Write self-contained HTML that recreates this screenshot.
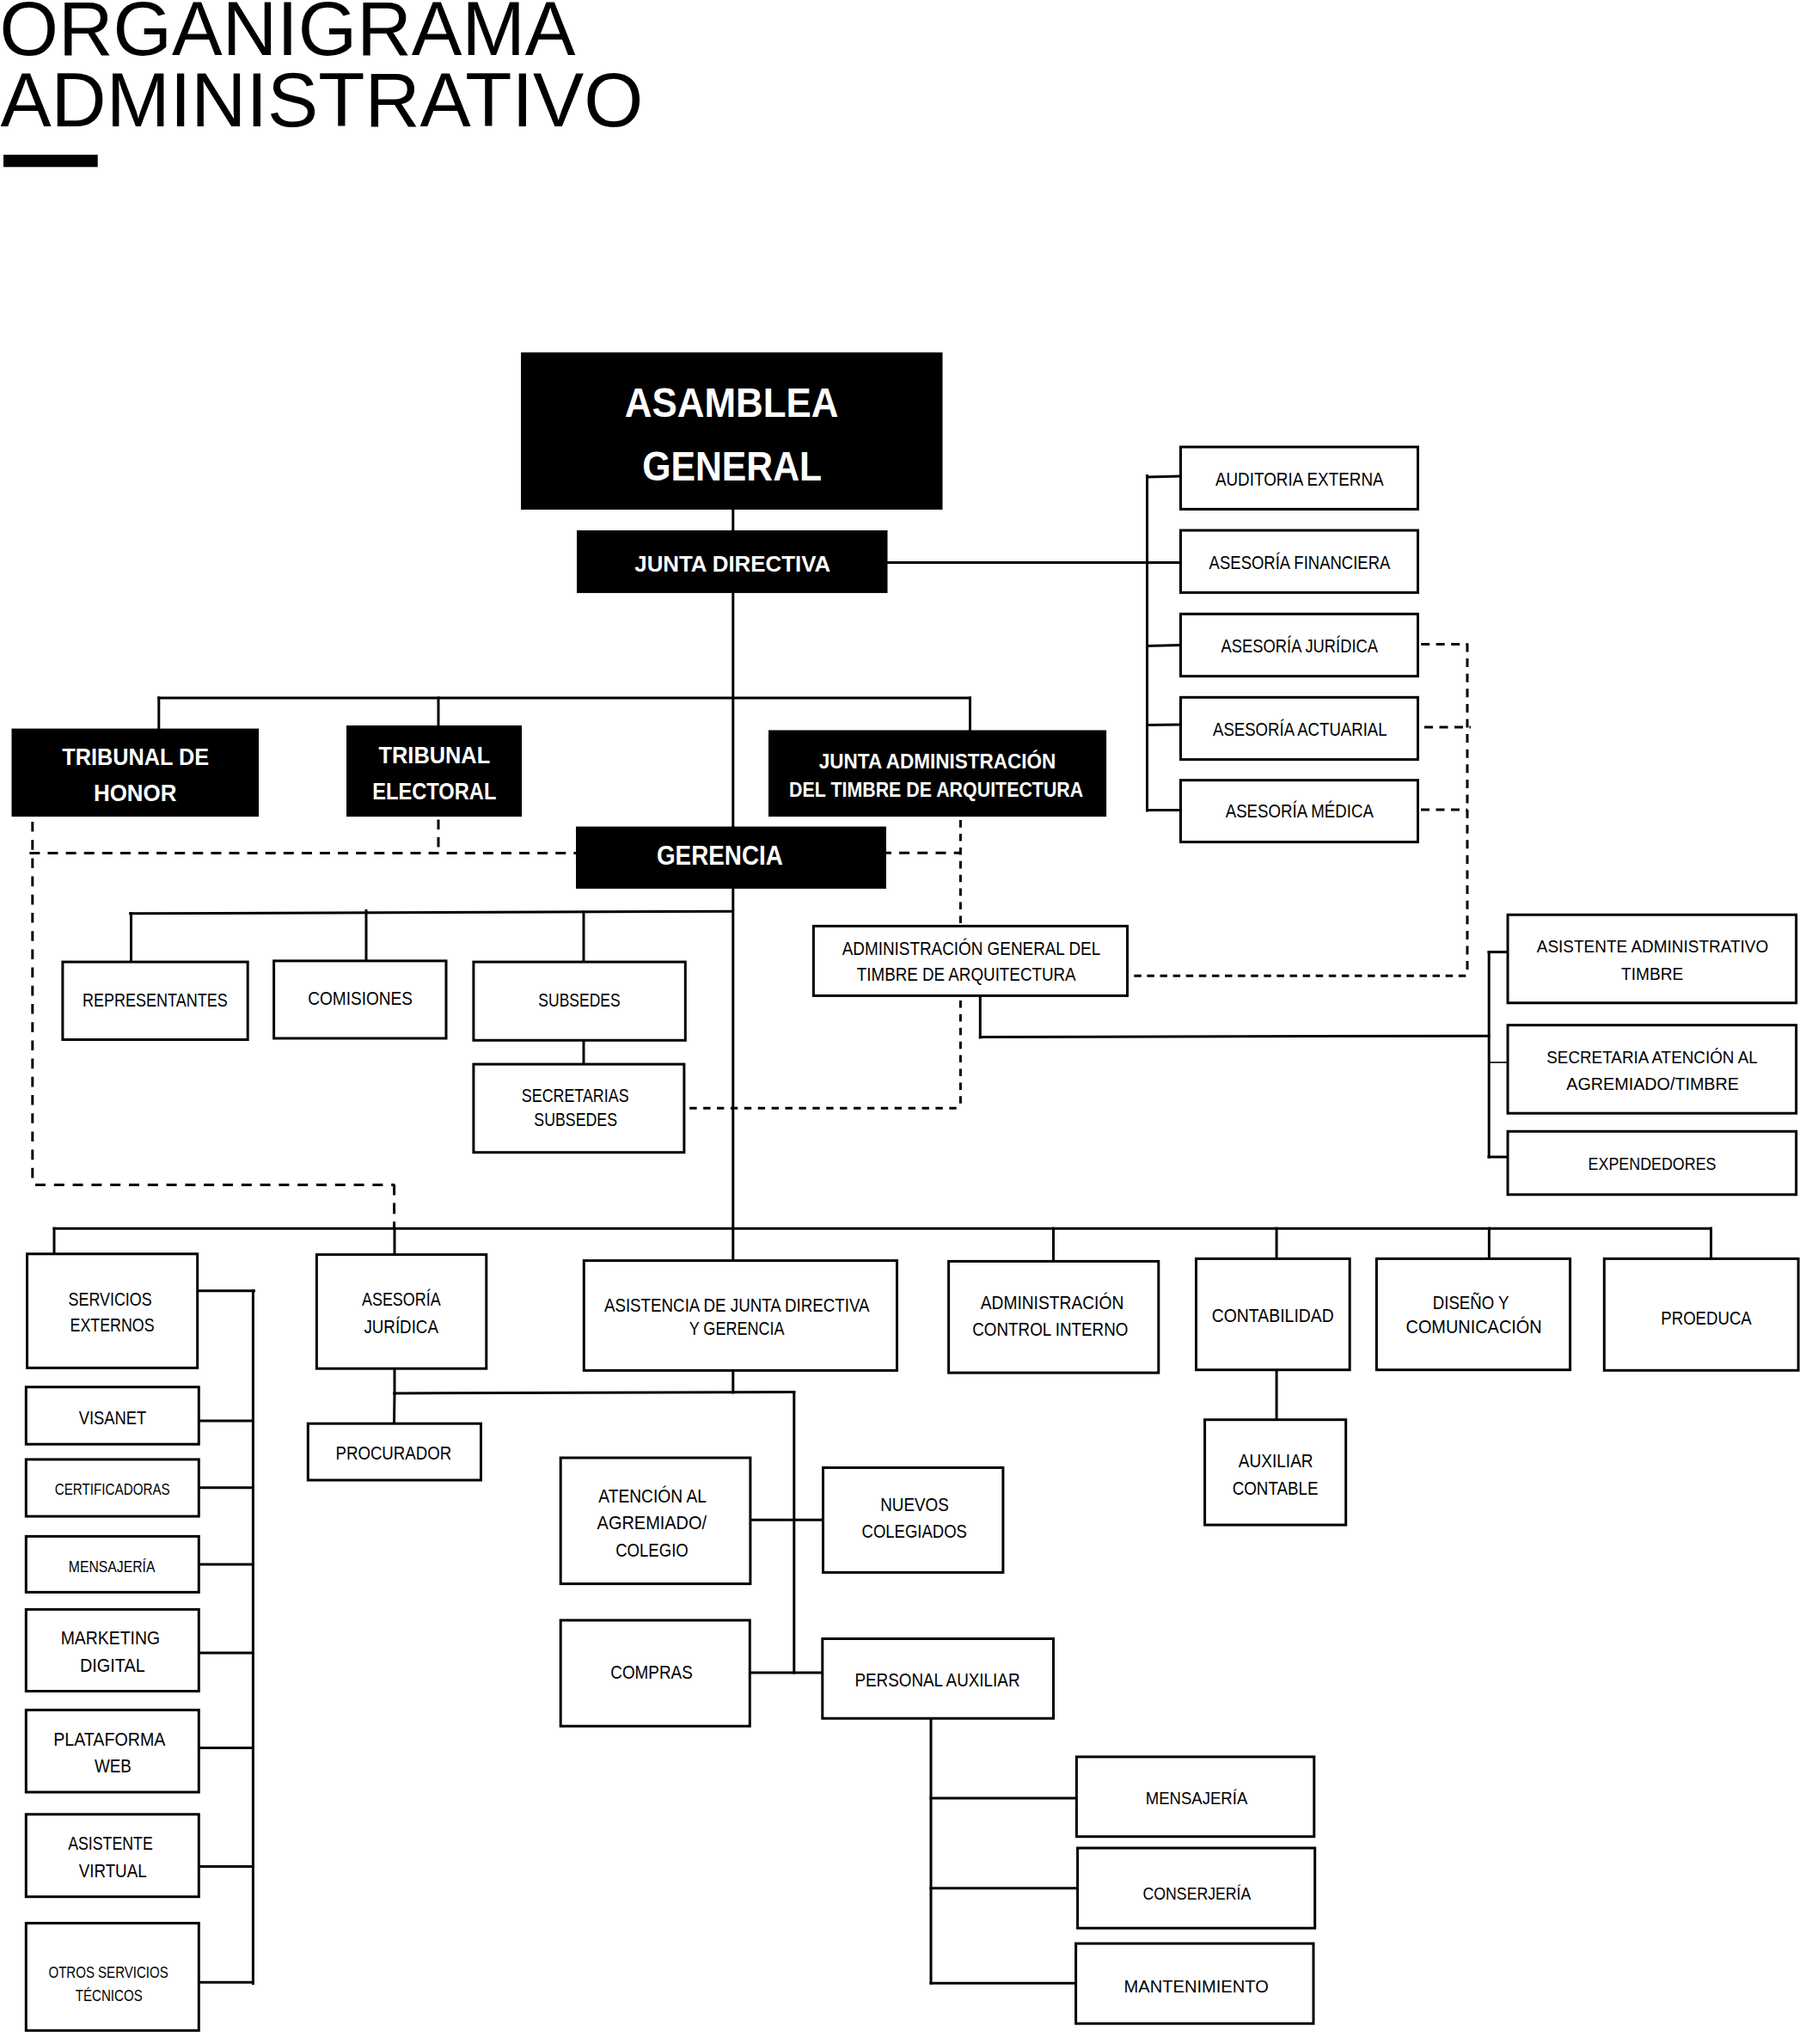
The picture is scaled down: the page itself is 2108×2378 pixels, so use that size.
<!DOCTYPE html><html><head><meta charset="utf-8"><title>Organigrama Administrativo</title><style>html,body{margin:0;padding:0;background:#fff;}svg{display:block;}</style></head><body>
<svg width="2108" height="2378" viewBox="0 0 2108 2378" font-family="Liberation Sans, sans-serif">
<rect x="0" y="0" width="2108" height="2378" fill="#fff"/>
<g stroke="#000" stroke-width="3" stroke-linecap="square"><line x1="852.8" y1="592" x2="852.8" y2="617"/><line x1="852.8" y1="689" x2="852.8" y2="1466"/><line x1="1032" y1="654.6" x2="1372" y2="654.6"/><line x1="1334.5" y1="553.5" x2="1334.5" y2="943"/><line x1="1334.5" y1="555" x2="1372" y2="554"/><line x1="1334.5" y1="751.4" x2="1372" y2="750.5"/><line x1="1334.5" y1="843.5" x2="1372" y2="843"/><line x1="1334.5" y1="942.5" x2="1372" y2="942.5"/><line x1="184.6" y1="811.9" x2="1128.5" y2="811.9"/><line x1="184.8" y1="811.9" x2="184.8" y2="848"/><line x1="510" y1="811.9" x2="510" y2="844.5"/><line x1="1128.5" y1="811.9" x2="1128.5" y2="850"/><line x1="151.6" y1="1062.8" x2="852" y2="1060.3"/><line x1="152.5" y1="1062.5" x2="152.5" y2="1119"/><line x1="426" y1="1059.5" x2="426" y2="1117.5"/><line x1="679" y1="1061" x2="679" y2="1119"/><line x1="679" y1="1210" x2="679" y2="1238"/><line x1="1140.3" y1="1158" x2="1140.3" y2="1207"/><line x1="1140.3" y1="1206.4" x2="1732" y2="1205.2"/><line x1="1732.2" y1="1107.6" x2="1732.2" y2="1346"/><line x1="1732" y1="1107.6" x2="1753" y2="1107.6"/><line x1="1732" y1="1236" x2="1753" y2="1236" stroke-width="1.6"/><line x1="1732" y1="1346" x2="1753" y2="1346"/><line x1="63" y1="1429.2" x2="1990.5" y2="1429.2"/><line x1="63" y1="1429.2" x2="63" y2="1459"/><line x1="459" y1="1429.2" x2="459" y2="1459.5"/><line x1="1225.5" y1="1429.2" x2="1225.5" y2="1467.5"/><line x1="1485.1" y1="1429.2" x2="1485.1" y2="1464.5"/><line x1="1732.4" y1="1429.2" x2="1732.4" y2="1464.5"/><line x1="1990.5" y1="1429.2" x2="1990.5" y2="1464.5"/><line x1="230" y1="1501.7" x2="295.5" y2="1501.7"/><line x1="294.4" y1="1501.7" x2="294.4" y2="2307.8"/><line x1="231" y1="1653" x2="294.4" y2="1653"/><line x1="231" y1="1730.8" x2="294.4" y2="1730.8"/><line x1="231" y1="1819.9" x2="294.4" y2="1819.9"/><line x1="231" y1="1923" x2="294.4" y2="1923"/><line x1="231" y1="2033.5" x2="294.4" y2="2033.5"/><line x1="231" y1="2171.4" x2="294.4" y2="2171.4"/><line x1="231" y1="2306.2" x2="294.4" y2="2306.2"/><line x1="459" y1="1592" x2="459" y2="1621"/><line x1="459" y1="1621" x2="923.8" y2="1619.6"/><line x1="459" y1="1621" x2="458.5" y2="1656.3"/><line x1="852.8" y1="1594.2" x2="852.8" y2="1620"/><line x1="923.8" y1="1619.6" x2="923.8" y2="1946"/><line x1="873" y1="1768.3" x2="957" y2="1768.3"/><line x1="872.5" y1="1946" x2="956.5" y2="1946"/><line x1="1485.1" y1="1594" x2="1485.1" y2="1651.5"/><line x1="1083" y1="1999" x2="1083" y2="2307.2"/><line x1="1083" y1="2092" x2="1252" y2="2092"/><line x1="1083" y1="2196.7" x2="1253.5" y2="2196.7"/><line x1="1083" y1="2307.2" x2="1251.5" y2="2307.2"/></g>
<g stroke="#000" stroke-width="3"><line x1="1653.2" y1="749.6" x2="1707" y2="749.6" stroke-dasharray="10 7.5" stroke-dashoffset="0"/><line x1="1707" y1="748.5" x2="1707" y2="1135.4" stroke-dasharray="10 7.6" stroke-dashoffset="0"/><line x1="1319.3" y1="1135.2" x2="1707" y2="1135.2" stroke-dasharray="8.5 6.6" stroke-dashoffset="0"/><line x1="1657" y1="846" x2="1711" y2="846" stroke-dasharray="10 7.5" stroke-dashoffset="0"/><line x1="1653" y1="942" x2="1707" y2="942" stroke-dasharray="10 7.5" stroke-dashoffset="0"/><line x1="37.8" y1="956" x2="37.8" y2="1378" stroke-dasharray="11.6 9.6" stroke-dashoffset="0"/><line x1="41" y1="1378.6" x2="459" y2="1378.6" stroke-dasharray="12 9.8" stroke-dashoffset="0"/><line x1="458.6" y1="1377.9" x2="458.6" y2="1429" stroke-dasharray="12.7 9" stroke-dashoffset="0"/><line x1="34.4" y1="992.5" x2="670" y2="992.5" stroke-dasharray="12 9.1" stroke-dashoffset="0"/><line x1="1030.5" y1="992.3" x2="1117.4" y2="992.3" stroke-dasharray="12 9.2" stroke-dashoffset="5.6"/><line x1="510" y1="953.6" x2="510" y2="992.5" stroke-dasharray="11.5 8.8" stroke-dashoffset="0"/><line x1="1117.4" y1="954.1" x2="1117.4" y2="1077" stroke-dasharray="8.6 7.3" stroke-dashoffset="0"/><line x1="1117.4" y1="1164" x2="1117.4" y2="1289" stroke-dasharray="8.5 7.4" stroke-dashoffset="0"/><line x1="802.2" y1="1289.2" x2="1117.5" y2="1289.2" stroke-dasharray="8.4 7.5" stroke-dashoffset="0"/></g>
<g fill="#000"><rect x="606" y="410" width="490.5" height="182.9"/><rect x="671" y="617" width="361.5" height="72.9"/><rect x="13.5" y="847.6" width="287.6" height="102.5"/><rect x="403" y="844" width="204" height="106.1"/><rect x="894" y="849.5" width="393.1" height="100.6"/><rect x="670" y="961.6" width="361" height="72.3"/></g>
<g fill="#fff" stroke="#000" stroke-width="3"><rect x="1373.5" y="520" width="276" height="72.4"/><rect x="1373.5" y="617" width="276" height="72.4"/><rect x="1373.5" y="714.3" width="276" height="72.4"/><rect x="1373.5" y="811.3" width="276" height="72.3"/><rect x="1373.5" y="907.7" width="276" height="71.9"/><rect x="72.9" y="1119.1" width="215.3" height="90.4"/><rect x="318.6" y="1117.9" width="200.4" height="90.1"/><rect x="550.9" y="1119.1" width="246.4" height="91.2"/><rect x="550.9" y="1238.1" width="245" height="102.6"/><rect x="946.4" y="1077.4" width="365.1" height="81"/><rect x="1754.05" y="1064.25" width="335.6" height="102.55"/><rect x="1754.05" y="1192.65" width="335.6" height="102.55"/><rect x="1754.05" y="1316.25" width="335.6" height="73.55"/><rect x="31.5" y="1458.8" width="198.2" height="132.6"/><rect x="30.3" y="1613.7" width="201" height="66.5"/><rect x="30.3" y="1697.9" width="201" height="66.2"/><rect x="30.3" y="1787.4" width="201" height="65"/><rect x="30.3" y="1872.4" width="201" height="95.1"/><rect x="30.3" y="1989.4" width="201" height="95.6"/><rect x="30.3" y="2110.8" width="201" height="95.9"/><rect x="30.3" y="2237.4" width="201" height="124.9"/><rect x="368.4" y="1459.6" width="197.4" height="132.6"/><rect x="358.3" y="1656.2" width="201.2" height="65.8"/><rect x="679.3" y="1466.6" width="364.2" height="127.8"/><rect x="1103.6" y="1467.4" width="244.2" height="129.7"/><rect x="1391.5" y="1464.4" width="178.7" height="129.3"/><rect x="1601.4" y="1464.4" width="225.2" height="129.3"/><rect x="1866.3" y="1464.4" width="225.8" height="129.9"/><rect x="1401.6" y="1651.7" width="164.1" height="122.4"/><rect x="652.2" y="1696" width="220.7" height="146.6"/><rect x="957.5" y="1707.5" width="209.4" height="121.9"/><rect x="652.2" y="1885" width="220.1" height="123.2"/><rect x="956.8" y="1906.5" width="268.7" height="92.7"/><rect x="1252.4" y="2043.9" width="276.4" height="92.8"/><rect x="1253.6" y="2150" width="276.1" height="93.2"/><rect x="1251.6" y="2261.1" width="276.4" height="93.1"/></g>
<rect x="4" y="180" width="109.7" height="14.3" fill="#000"/>
<g fill="#000"><text x="-0.4" y="64" font-size="88.5" textLength="669.76" lengthAdjust="spacingAndGlyphs">ORGANIGRAMA</text><text x="0.4" y="146.6" font-size="88.5" textLength="747.92" lengthAdjust="spacingAndGlyphs">ADMINISTRATIVO</text><text x="726.78" y="485.4" font-size="48.74" textLength="248.68" lengthAdjust="spacingAndGlyphs" font-weight="700" fill="#fff">ASAMBLEA</text><text x="747.29" y="559" font-size="48.88" textLength="208.86" lengthAdjust="spacingAndGlyphs" font-weight="700" fill="#fff">GENERAL</text><text x="738.28" y="664.8" font-size="26.68" textLength="227.92" lengthAdjust="spacingAndGlyphs" font-weight="700" fill="#fff">JUNTA DIRECTIVA</text><text x="72.35" y="889.8" font-size="27.93" textLength="170.85" lengthAdjust="spacingAndGlyphs" font-weight="700" fill="#fff">TRIBUNAL DE</text><text x="108.99" y="932" font-size="27.93" textLength="96.49" lengthAdjust="spacingAndGlyphs" font-weight="700" fill="#fff">HONOR</text><text x="440.55" y="887.9" font-size="27.93" textLength="129.63" lengthAdjust="spacingAndGlyphs" font-weight="700" fill="#fff">TRIBUNAL</text><text x="433.14" y="929.8" font-size="27.93" textLength="144.23" lengthAdjust="spacingAndGlyphs" font-weight="700" fill="#fff">ELECTORAL</text><text x="952.75" y="894" font-size="24.3" textLength="275.63" lengthAdjust="spacingAndGlyphs" font-weight="700" fill="#fff">JUNTA ADMINISTRACIÓN</text><text x="918.1" y="926.8" font-size="24.3" textLength="342.14" lengthAdjust="spacingAndGlyphs" font-weight="700" fill="#fff">DEL TIMBRE DE ARQUITECTURA</text><text x="763.99" y="1006" font-size="31.28" textLength="146.8" lengthAdjust="spacingAndGlyphs" font-weight="700" fill="#fff">GERENCIA</text><text x="1413.9" y="564.9" font-size="21.51" textLength="195.75" lengthAdjust="spacingAndGlyphs">AUDITORIA EXTERNA</text><text x="1406.6" y="661.9" font-size="21.37" textLength="210.83" lengthAdjust="spacingAndGlyphs">ASESORÍA FINANCIERA</text><text x="1420.6" y="758.9" font-size="21.37" textLength="182.43" lengthAdjust="spacingAndGlyphs">ASESORÍA JURÍDICA</text><text x="1411" y="856.1" font-size="21.37" textLength="202.61" lengthAdjust="spacingAndGlyphs">ASESORÍA ACTUARIAL</text><text x="1425.7" y="951.3" font-size="21.37" textLength="172.19" lengthAdjust="spacingAndGlyphs">ASESORÍA MÉDICA</text><text x="96.06" y="1170.6" font-size="22.07" textLength="168.7" lengthAdjust="spacingAndGlyphs">REPRESENTANTES</text><text x="358.25" y="1169.3" font-size="22.07" textLength="121.7" lengthAdjust="spacingAndGlyphs">COMISIONES</text><text x="626.33" y="1170.6" font-size="22.07" textLength="95.29" lengthAdjust="spacingAndGlyphs">SUBSEDES</text><text x="606.81" y="1282.4" font-size="22.07" textLength="124.76" lengthAdjust="spacingAndGlyphs">SECRETARIAS</text><text x="621.31" y="1310" font-size="22.07" textLength="96.71" lengthAdjust="spacingAndGlyphs">SUBSEDES</text><text x="979.7" y="1110.9" font-size="22.21" textLength="300.47" lengthAdjust="spacingAndGlyphs">ADMINISTRACIÓN GENERAL DEL</text><text x="996.82" y="1141.1" font-size="22.21" textLength="254.8" lengthAdjust="spacingAndGlyphs">TIMBRE DE ARQUITECTURA</text><text x="1787.8" y="1108.1" font-size="20.53" textLength="269.37" lengthAdjust="spacingAndGlyphs">ASISTENTE ADMINISTRATIVO</text><text x="1886.12" y="1139.6" font-size="20.53" textLength="72.2" lengthAdjust="spacingAndGlyphs">TIMBRE</text><text x="1799.26" y="1236.9" font-size="20.53" textLength="245.45" lengthAdjust="spacingAndGlyphs">SECRETARIA ATENCIÓN AL</text><text x="1822.3" y="1268" font-size="20.53" textLength="200.64" lengthAdjust="spacingAndGlyphs">AGREMIADO/TIMBRE</text><text x="1847.57" y="1361.4" font-size="20.53" textLength="148.94" lengthAdjust="spacingAndGlyphs">EXPENDEDORES</text><text x="79.51" y="1518.5" font-size="21.65" textLength="97.15" lengthAdjust="spacingAndGlyphs">SERVICIOS</text><text x="81.57" y="1549.4" font-size="21.65" textLength="98.06" lengthAdjust="spacingAndGlyphs">EXTERNOS</text><text x="421" y="1519.2" font-size="21.65" textLength="91.65" lengthAdjust="spacingAndGlyphs">ASESORÍA</text><text x="423.42" y="1550.5" font-size="21.65" textLength="86.5" lengthAdjust="spacingAndGlyphs">JURÍDICA</text><text x="91.72" y="1656.8" font-size="21.65" textLength="78.63" lengthAdjust="spacingAndGlyphs">VISANET</text><text x="390.51" y="1698.1" font-size="21.65" textLength="134.67" lengthAdjust="spacingAndGlyphs">PROCURADOR</text><text x="63.74" y="1738.7" font-size="18.99" textLength="133.96" lengthAdjust="spacingAndGlyphs">CERTIFICADORAS</text><text x="79.84" y="1828.9" font-size="17.74" textLength="100.56" lengthAdjust="spacingAndGlyphs">MENSAJERÍA</text><text x="70.65" y="1913.1" font-size="21.51" textLength="115.51" lengthAdjust="spacingAndGlyphs">MARKETING</text><text x="93.01" y="1944.8" font-size="21.51" textLength="75.69" lengthAdjust="spacingAndGlyphs">DIGITAL</text><text x="62.13" y="2030.6" font-size="21.51" textLength="130.28" lengthAdjust="spacingAndGlyphs">PLATAFORMA</text><text x="109.91" y="2061.9" font-size="21.51" textLength="42.98" lengthAdjust="spacingAndGlyphs">WEB</text><text x="79.2" y="2152.3" font-size="21.51" textLength="98.53" lengthAdjust="spacingAndGlyphs">ASISTENTE</text><text x="91.71" y="2183.6" font-size="21.51" textLength="78.95" lengthAdjust="spacingAndGlyphs">VIRTUAL</text><text x="56.45" y="2301.4" font-size="18.85" textLength="139.27" lengthAdjust="spacingAndGlyphs">OTROS SERVICIOS</text><text x="87.8" y="2328" font-size="18.3" textLength="77.91" lengthAdjust="spacingAndGlyphs">TÉCNICOS</text><text x="702.9" y="1525.9" font-size="21.79" textLength="308.71" lengthAdjust="spacingAndGlyphs">ASISTENCIA DE JUNTA DIRECTIVA</text><text x="801.66" y="1553.4" font-size="21.79" textLength="110.84" lengthAdjust="spacingAndGlyphs">Y GERENCIA</text><text x="696.3" y="1747.9" font-size="21.79" textLength="125.65" lengthAdjust="spacingAndGlyphs">ATENCIÓN AL</text><text x="694.6" y="1779.4" font-size="21.79" textLength="127.49" lengthAdjust="spacingAndGlyphs">AGREMIADO/</text><text x="716.17" y="1810.8" font-size="21.79" textLength="84.6" lengthAdjust="spacingAndGlyphs">COLEGIO</text><text x="1024.19" y="1757.9" font-size="21.79" textLength="79.52" lengthAdjust="spacingAndGlyphs">NUEVOS</text><text x="1002.58" y="1789.4" font-size="21.79" textLength="122.32" lengthAdjust="spacingAndGlyphs">COLEGIADOS</text><text x="710.26" y="1952.6" font-size="21.79" textLength="95.52" lengthAdjust="spacingAndGlyphs">COMPRAS</text><text x="994.39" y="1962.4" font-size="21.79" textLength="192.13" lengthAdjust="spacingAndGlyphs">PERSONAL AUXILIAR</text><text x="1332.72" y="2098.5" font-size="19.97" textLength="118.59" lengthAdjust="spacingAndGlyphs">MENSAJERÍA</text><text x="1329.52" y="2209.6" font-size="19.97" textLength="125.83" lengthAdjust="spacingAndGlyphs">CONSERJERÍA</text><text x="1307.59" y="2318.1" font-size="19.97" textLength="168.23" lengthAdjust="spacingAndGlyphs">MANTENIMIENTO</text><text x="1140.7" y="1523.1" font-size="21.79" textLength="166.58" lengthAdjust="spacingAndGlyphs">ADMINISTRACIÓN</text><text x="1131.26" y="1554.3" font-size="21.79" textLength="181.18" lengthAdjust="spacingAndGlyphs">CONTROL INTERNO</text><text x="1409.73" y="1538.4" font-size="21.79" textLength="142.06" lengthAdjust="spacingAndGlyphs">CONTABILIDAD</text><text x="1666.81" y="1523.1" font-size="21.79" textLength="88.58" lengthAdjust="spacingAndGlyphs">DISEÑO Y</text><text x="1635.5" y="1551.4" font-size="21.79" textLength="158.18" lengthAdjust="spacingAndGlyphs">COMUNICACIÓN</text><text x="1932.31" y="1541.2" font-size="21.79" textLength="105.43" lengthAdjust="spacingAndGlyphs">PROEDUCA</text><text x="1440.8" y="1707.4" font-size="21.79" textLength="86.79" lengthAdjust="spacingAndGlyphs">AUXILIAR</text><text x="1433.66" y="1738.6" font-size="21.79" textLength="99.9" lengthAdjust="spacingAndGlyphs">CONTABLE</text></g>
</svg></body></html>
